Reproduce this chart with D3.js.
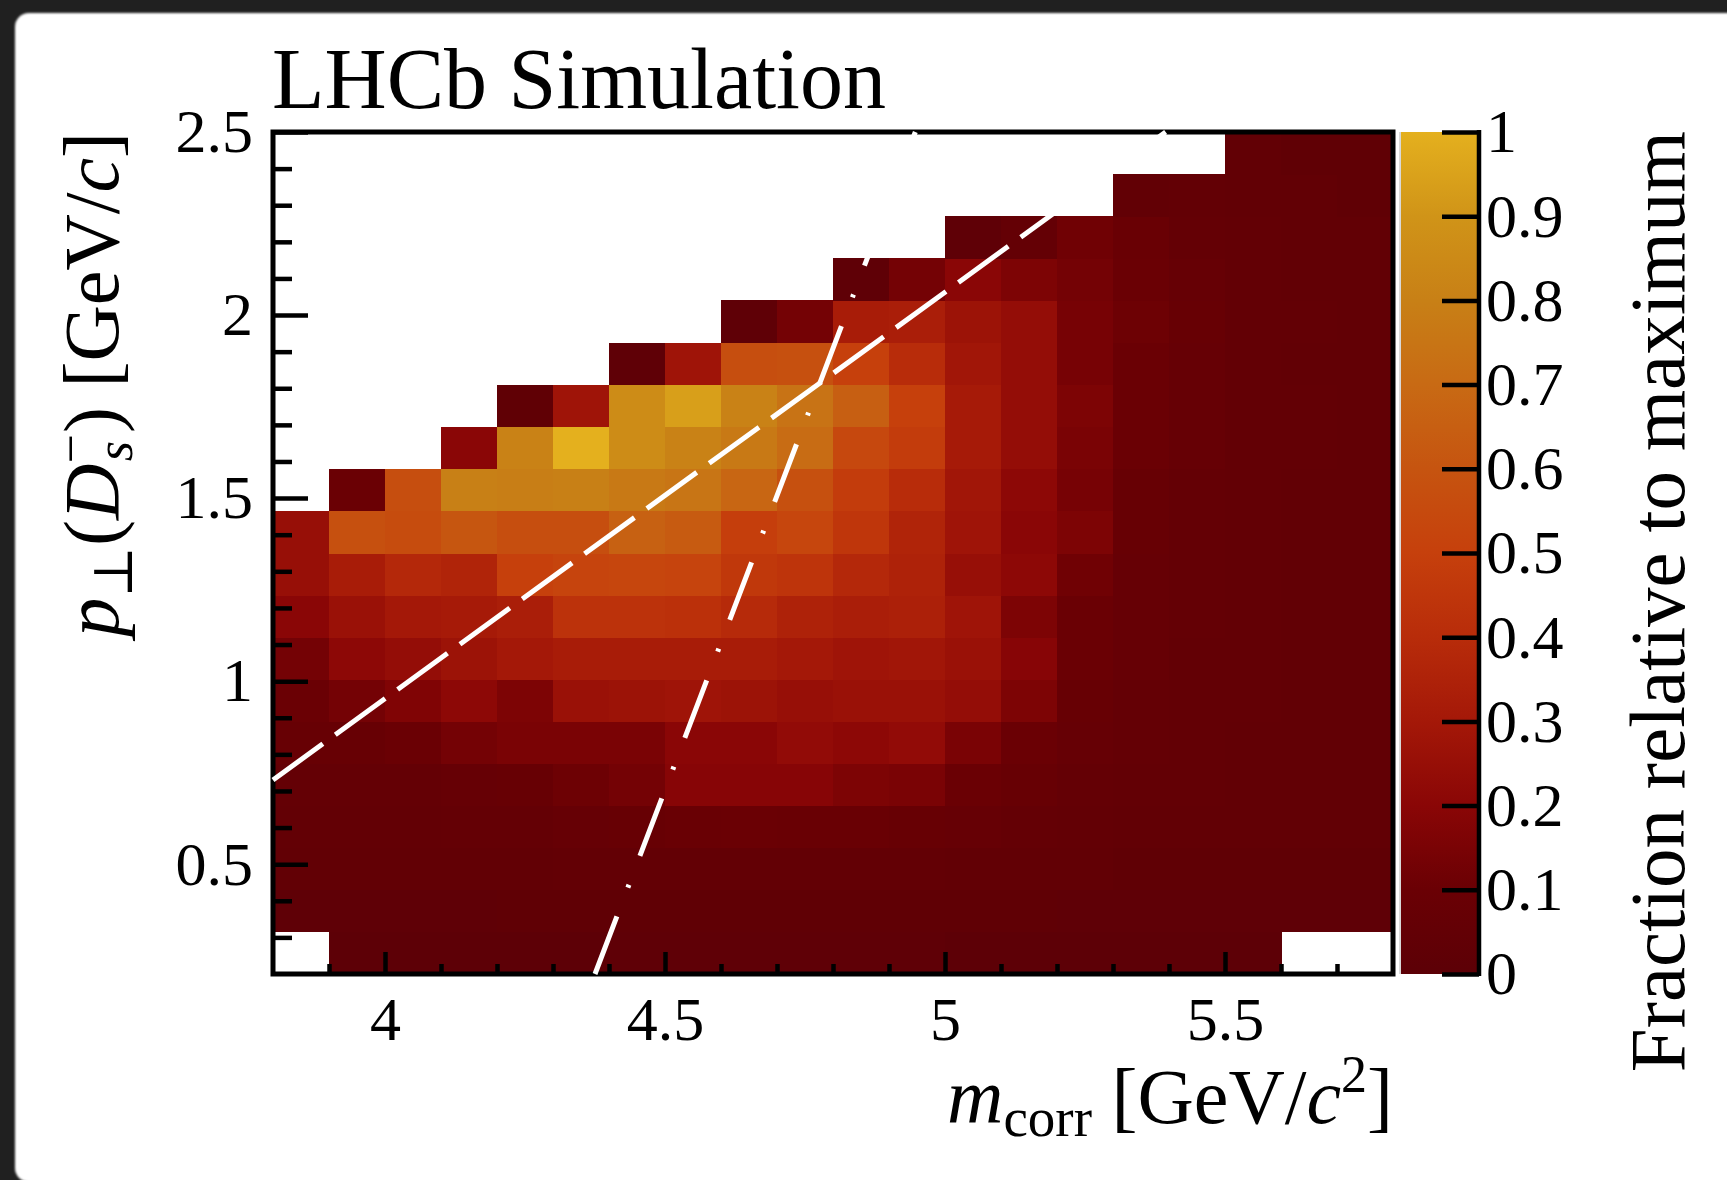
<!DOCTYPE html>
<html>
<head>
<meta charset="utf-8">
<script src="https://cdn.jsdelivr.net/npm/d3@7"></script>
<style>
  html, body { margin: 0; padding: 0; background: #202020; overflow: hidden; }
  svg { display: block; }
</style>
</head>
<body>
<svg id="chart" width="1727" height="1180"></svg>
<script>
// ---- binning -------------------------------------------------------------
const massEdges = [3.8, 3.9, 4.0, 4.1, 4.2, 4.3, 4.4, 4.5, 4.6, 4.7, 4.8,
                   4.9, 5.0, 5.1, 5.2, 5.3, 5.4, 5.5, 5.6, 5.7, 5.8];
const ptEdges = [0.2, 0.315, 0.43, 0.545, 0.66, 0.775, 0.89, 1.005, 1.12, 1.235, 1.35,
                 1.465, 1.58, 1.695, 1.81, 1.925, 2.04, 2.155, 2.27, 2.385, 2.5];

// ---- fraction of the maximum per cell (rows: lowest pT bin first) --------
const fraction = [
  [null, 0.01, 0.01, 0.01, 0.01, 0.01, 0.02, 0.02, 0.02, 0.02, 0.02, 0.02, 0.01, 0.01, 0.01, 0.01, 0.01, 0.01, null, null],
  [0.02, 0.02, 0.02, 0.02, 0.03, 0.03, 0.03, 0.03, 0.03, 0.03, 0.03, 0.03, 0.03, 0.03, 0.02, 0.02, 0.02, 0.02, 0.02, 0.02],
  [0.04, 0.04, 0.04, 0.04, 0.04, 0.05, 0.05, 0.05, 0.05, 0.05, 0.05, 0.05, 0.04, 0.04, 0.04, 0.03, 0.03, 0.03, 0.03, 0.03],
  [0.05, 0.05, 0.05, 0.06, 0.06, 0.07, 0.08, 0.09, 0.10, 0.09, 0.09, 0.08, 0.07, 0.06, 0.05, 0.04, 0.04, 0.04, 0.04, 0.04],
  [0.06, 0.06, 0.06, 0.07, 0.08, 0.11, 0.13, 0.19, 0.19, 0.19, 0.16, 0.15, 0.10, 0.08, 0.06, 0.05, 0.05, 0.04, 0.04, 0.04],
  [0.08, 0.08, 0.10, 0.13, 0.15, 0.15, 0.15, 0.20, 0.20, 0.23, 0.21, 0.23, 0.15, 0.10, 0.07, 0.06, 0.05, 0.04, 0.04, 0.04],
  [0.10, 0.13, 0.17, 0.21, 0.16, 0.26, 0.27, 0.28, 0.27, 0.25, 0.26, 0.26, 0.24, 0.16, 0.08, 0.06, 0.05, 0.05, 0.04, 0.04],
  [0.13, 0.21, 0.24, 0.27, 0.30, 0.32, 0.32, 0.32, 0.32, 0.30, 0.28, 0.29, 0.26, 0.19, 0.10, 0.07, 0.05, 0.05, 0.04, 0.04],
  [0.20, 0.26, 0.30, 0.31, 0.33, 0.43, 0.43, 0.42, 0.39, 0.35, 0.33, 0.34, 0.28, 0.16, 0.10, 0.07, 0.06, 0.05, 0.04, 0.04],
  [0.25, 0.32, 0.38, 0.36, 0.50, 0.52, 0.53, 0.52, 0.46, 0.44, 0.38, 0.35, 0.25, 0.21, 0.12, 0.07, 0.06, 0.05, 0.04, 0.04],
  [0.25, 0.58, 0.56, 0.61, 0.57, 0.57, 0.66, 0.63, 0.49, 0.53, 0.45, 0.36, 0.28, 0.20, 0.16, 0.08, 0.06, 0.05, 0.04, 0.04],
  [null, 0.10, 0.57, 0.80, 0.79, 0.80, 0.77, 0.75, 0.68, 0.58, 0.48, 0.40, 0.29, 0.21, 0.14, 0.08, 0.06, 0.05, 0.04, 0.04],
  [null, null, null, 0.20, 0.81, 1.00, 0.86, 0.81, 0.77, 0.71, 0.54, 0.48, 0.31, 0.24, 0.15, 0.10, 0.07, 0.05, 0.05, 0.04],
  [null, null, null, null, 0.03, 0.28, 0.86, 0.94, 0.81, 0.74, 0.65, 0.50, 0.31, 0.24, 0.16, 0.10, 0.07, 0.05, 0.05, 0.04],
  [null, null, null, null, null, null, 0.02, 0.28, 0.57, 0.58, 0.50, 0.40, 0.29, 0.24, 0.14, 0.10, 0.07, 0.05, 0.04, 0.04],
  [null, null, null, null, null, null, null, null, 0.02, 0.13, 0.32, 0.33, 0.27, 0.24, 0.14, 0.11, 0.08, 0.05, 0.05, 0.04],
  [null, null, null, null, null, null, null, null, null, null, 0.02, 0.13, 0.20, 0.16, 0.13, 0.10, 0.07, 0.05, 0.04, 0.04],
  [null, null, null, null, null, null, null, null, null, null, null, null, 0.02, 0.06, 0.12, 0.09, 0.06, 0.05, 0.04, 0.04],
  [null, null, null, null, null, null, null, null, null, null, null, null, null, null, null, 0.04, 0.05, 0.04, 0.04, 0.03],
  [null, null, null, null, null, null, null, null, null, null, null, null, null, null, null, null, null, 0.04, 0.03, 0.03]
];

// ---- selection boundaries (m_corr, pT) -----------------------------------
const dashedCut  = [[3.8, 0.73], [5.394, 2.5]];
const dashDotCut = [[4.375, 0.2], [4.947, 2.5]];

// ---- ticks ----------------------------------------------------------------
const massTicks = [4, 4.5, 5, 5.5];
const massTickLabels = ["4", "4.5", "5", "5.5"];
const ptTicks = [0.5, 1, 1.5, 2, 2.5];
const ptTickLabels = ["0.5", "1", "1.5", "2", "2.5"];
const zTicks = [0, 0.1, 0.2, 0.3, 0.4, 0.5, 0.6, 0.7, 0.8, 0.9, 1];
const zTickLabels = ["0", "0.1", "0.2", "0.3", "0.4", "0.5", "0.6", "0.7", "0.8", "0.9", "1"];

// ---- palette --------------------------------------------------------------
const paletteStops  = [0, 0.1, 0.2, 0.3, 0.4, 0.5, 0.6, 0.7, 0.8, 0.9, 1];
const paletteColors = ["#5c0006", "#6a0004", "#8a0606", "#a41808", "#b82c0a", "#c6400c",
                       "#c65410", "#c86a14", "#c88016", "#d09418", "#e4b01e"];

// ---- layout ---------------------------------------------------------------
const frame = { left: 273, right: 1393, top: 132, bottom: 974 };
const bar = { left: 1401, right: 1479 };
const serif = "'Liberation Serif', 'Times New Roman', 'DejaVu Serif', serif";

const svg = d3.select("#chart");

// page backdrop: dark border with a soft-edged white sheet
const defs = svg.append("defs");
defs.append("filter").attr("id", "soft")
  .append("feGaussianBlur").attr("stdDeviation", 1.3);
svg.append("rect").attr("width", 1727).attr("height", 1180).attr("fill", "#202020");
svg.append("rect")
  .attr("x", 15).attr("y", 13).attr("width", 1740).attr("height", 1169)
  .attr("rx", 14).attr("fill", "#ffffff").attr("filter", "url(#soft)");

const x = d3.scaleLinear().domain([massEdges[0], massEdges[massEdges.length - 1]])
  .range([frame.left, frame.right]);
const y = d3.scaleLinear().domain([ptEdges[0], ptEdges[ptEdges.length - 1]])
  .range([frame.bottom, frame.top]);
const z = d3.scaleLinear().domain([0, 1]).range([frame.bottom, frame.top]);
const color = d3.scaleLinear().domain(paletteStops).range(paletteColors)
  .interpolate(d3.interpolateRgb).clamp(true);

// ---- heat map cells -------------------------------------------------------
const cells = [];
fraction.forEach((row, j) => row.forEach((v, i) => {
  if (v !== null) cells.push({ i, j, v });
}));
svg.append("g").attr("shape-rendering", "crispEdges")
  .selectAll("rect").data(cells).join("rect")
  .attr("x", d => x(massEdges[d.i]))
  .attr("y", d => y(ptEdges[d.j + 1]))
  .attr("width", d => x(massEdges[d.i + 1]) - x(massEdges[d.i]) + 0.5)
  .attr("height", d => y(ptEdges[d.j]) - y(ptEdges[d.j + 1]) + 0.5)
  .attr("fill", d => color(d.v));

// ---- colour bar -----------------------------------------------------------
const grad = defs.append("linearGradient").attr("id", "palette")
  .attr("x1", 0).attr("y1", 1).attr("x2", 0).attr("y2", 0);
grad.selectAll("stop").data(paletteStops).join("stop")
  .attr("offset", d => d)
  .attr("stop-color", (d, i) => paletteColors[i]);
svg.append("rect")
  .attr("x", bar.left).attr("y", z(1))
  .attr("width", bar.right - bar.left).attr("height", z(0) - z(1))
  .attr("fill", "url(#palette)");
svg.append("line")
  .attr("x1", bar.left - 1).attr("x2", bar.left - 1)
  .attr("y1", z(1)).attr("y2", z(0))
  .attr("stroke", "#cccccc").attr("stroke-width", 1.5);

// ---- axes -----------------------------------------------------------------
function styleAxis(g) {
  g.attr("font-family", serif).attr("font-size", 62);
  g.select(".domain").remove();
  g.selectAll(".tick line").attr("stroke", "#000").attr("stroke-width", 4.5);
  g.selectAll(".tick text").attr("fill", "#000");
}

const massMinor = massEdges.filter(v => v > massEdges[0] && v < massEdges[massEdges.length - 1]
  && !massTicks.some(t => Math.abs(t - v) < 1e-6));
svg.append("g").attr("transform", `translate(0,${frame.bottom})`)
  .call(d3.axisBottom(x).tickValues(massMinor).tickSizeInner(-10).tickSizeOuter(0).tickFormat(""))
  .call(styleAxis);
svg.append("g").attr("transform", `translate(0,${frame.bottom})`)
  .call(d3.axisBottom(x).tickValues(massTicks).tickSizeInner(-22).tickSizeOuter(0)
    .tickPadding(22).tickFormat((d, i) => massTickLabels[i]))
  .call(styleAxis);

const ptMinor = y.ticks(23).filter(v => v > ptEdges[0] + 1e-6 && !ptTicks.some(t => Math.abs(t - v) < 1e-6));
svg.append("g").attr("transform", `translate(${frame.left},0)`)
  .call(d3.axisLeft(y).tickValues(ptMinor).tickSizeInner(-19).tickSizeOuter(0).tickFormat(""))
  .call(styleAxis);
svg.append("g").attr("transform", `translate(${frame.left},0)`)
  .call(d3.axisLeft(y).tickValues(ptTicks).tickSizeInner(-35).tickSizeOuter(0)
    .tickPadding(20).tickFormat((d, i) => ptTickLabels[i]))
  .call(styleAxis);

svg.append("g").attr("transform", `translate(${bar.right},0)`)
  .call(d3.axisRight(z).tickValues(zTicks).tickSizeInner(-37).tickSizeOuter(0)
    .tickPadding(7).tickFormat((d, i) => zTickLabels[i]))
  .call(styleAxis);
svg.append("line")
  .attr("x1", bar.right).attr("x2", bar.right)
  .attr("y1", z(1) - 2).attr("y2", z(0) + 2)
  .attr("stroke", "#000").attr("stroke-width", 4.5);

// frame
svg.append("rect")
  .attr("x", frame.left).attr("y", frame.top)
  .attr("width", frame.right - frame.left).attr("height", frame.bottom - frame.top)
  .attr("fill", "none").attr("stroke", "#000").attr("stroke-width", 5);

// ---- selection lines ------------------------------------------------------
const line = d3.line().x(d => x(d[0])).y(d => y(d[1]));
svg.append("path").attr("d", line(dashedCut))
  .attr("fill", "none").attr("stroke", "#fff").attr("stroke-width", 5)
  .attr("stroke-dasharray", "61.6 15.4");
svg.append("path").attr("d", line(dashDotCut))
  .attr("fill", "none").attr("stroke", "#fff").attr("stroke-width", 5)
  .attr("stroke-dasharray", "61.6 30.8 3.1 30.8");

// ---- texts ----------------------------------------------------------------
svg.append("text")
  .attr("x", 272).attr("y", 108)
  .attr("font-family", serif).attr("font-size", 86).attr("fill", "#000")
  .text("LHCb Simulation");

// x title: m_corr [GeV/c^2]
const xt = svg.append("text")
  .attr("x", frame.right).attr("y", 1123).attr("text-anchor", "end")
  .attr("font-family", serif).attr("font-size", 78).attr("fill", "#000");
xt.append("tspan").attr("font-style", "italic").text("m");
xt.append("tspan").attr("font-size", 55).attr("dy", 13).text("corr");
xt.append("tspan").attr("dy", -13).text(" [GeV/");
xt.append("tspan").attr("font-style", "italic").text("c");
xt.append("tspan").attr("font-size", 52).attr("dy", -31).text("2");
xt.append("tspan").attr("dy", 31).text("]");

// y title: p_perp(D_s^-) [GeV/c]
const yt = svg.append("text")
  .attr("transform", `translate(118,${frame.top}) rotate(-90)`)
  .attr("text-anchor", "end")
  .attr("font-family", serif).attr("font-size", 78).attr("fill", "#000");
yt.append("tspan").attr("font-style", "italic").text("p");
yt.append("tspan").attr("font-size", 55).attr("dy", 14).text("\u22A5");
yt.append("tspan").attr("dy", -14).text("(");
yt.append("tspan").attr("font-style", "italic").text("D");
yt.append("tspan").attr("font-size", 52).attr("dy", -30).text("\u2212");
yt.append("tspan").attr("font-size", 52).attr("font-style", "italic")
  .attr("dx", -27).attr("dy", 44).text("s");
yt.append("tspan").attr("dx", 8).attr("dy", -14).text(")");
yt.append("tspan").text(" [GeV/");
yt.append("tspan").attr("font-style", "italic").text("c");
yt.append("tspan").text("]");

// colour bar title
svg.append("text")
  .attr("transform", `translate(1684,${frame.top - 1}) rotate(-90)`)
  .attr("text-anchor", "end")
  .attr("font-family", serif).attr("font-size", 79).attr("fill", "#000")
  .text("Fraction relative to maximum");
</script>
</body>
</html>
